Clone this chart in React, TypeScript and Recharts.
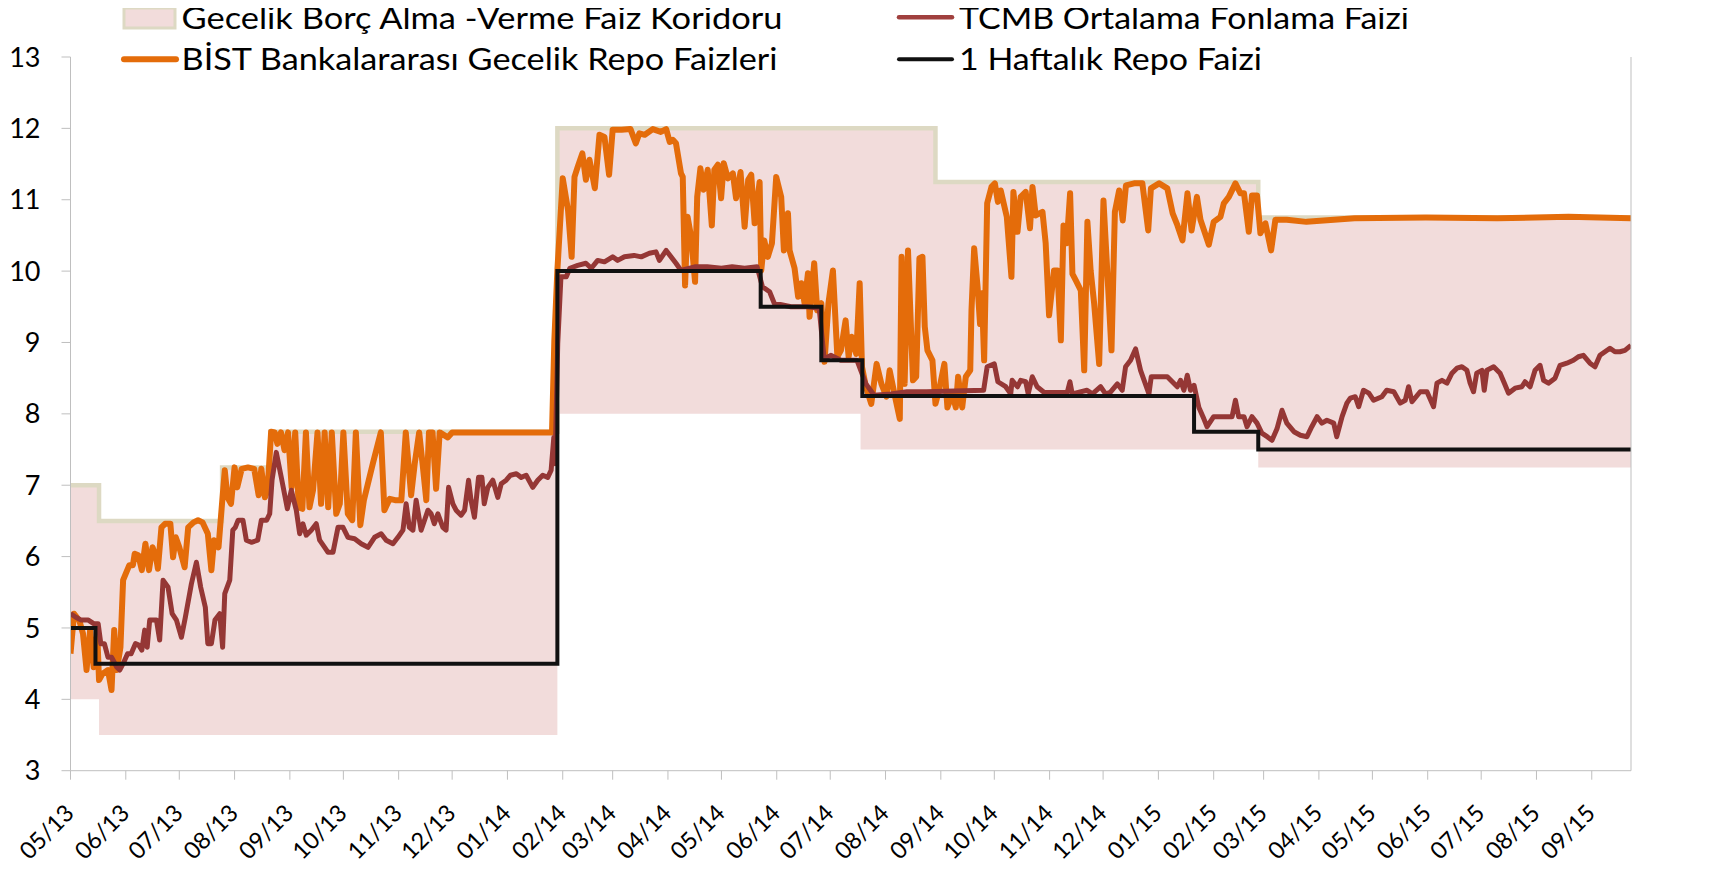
import { Area, ComposedChart, Line, XAxis, YAxis } from 'recharts'

const W = 1713
const H = 870
const font = "Lato, 'Open Sans', sans-serif"

// x axis: days since 2013-05-01, ticks on month starts
const monthLabels = [
  '05/13', '06/13', '07/13', '08/13', '09/13', '10/13', '11/13', '12/13',
  '01/14', '02/14', '03/14', '04/14', '05/14', '06/14', '07/14', '08/14',
  '09/14', '10/14', '11/14', '12/14', '01/15', '02/15', '03/15', '04/15',
  '05/15', '06/15', '07/15', '08/15', '09/15',
]
const dayOf = (label: string) => {
  const [m, y] = label.split('/').map(Number)
  return Math.round((Date.UTC(2000 + y, m - 1, 1) - Date.UTC(2013, 4, 1)) / 86400000)
}
const monthTicks = monthLabels.map(dayOf)
const labelByDay = new Map(monthTicks.map((d, i) => [d, monthLabels[i]]))
const lastDay = 875
const rateTicks = [3, 4, 5, 6, 7, 8, 9, 10, 11, 12, 13]

// overnight borrowing / lending corridor (step changes)
const corridorDays = [0, 16, 85, 112, 273, 443, 485, 666, 875]
const corridorLow = [4, 3.5, 3.5, 3.5, 8, 7.5, 7.5, 7.25, 7.25]
const corridorHigh = [7, 6.5, 7.25, 7.75, 12, 12, 11.25, 10.75, 10.75]

// one week repo rate (step changes)
const repoDays = [0, 14, 273, 387, 421, 444, 630, 666, 875]
const repoRates = [5, 4.5, 10, 9.5, 8.75, 8.25, 7.75, 7.5, 7.5]

// BIST interbank overnight repo
const bistDays = [
  0, 2, 5, 7, 9, 11, 13, 15, 16, 18, 21, 23, 24.5, 26, 28, 29.5, 31, 33, 35, 36,
  38, 40, 42, 44, 46, 48, 49, 51, 53, 56, 57.5, 59, 61, 64, 66, 69, 71.5, 74, 77, 79,
  80.5, 83, 84.5, 86.5, 88, 90, 92, 93.5, 96, 99.5, 103, 105.5, 107, 109, 110.5, 112.5, 114.5, 116, 118, 120,
  122, 124, 126, 128, 130, 132, 134, 136, 138.5, 140.5, 142.5, 144.5, 146.5, 149, 151, 153, 155.5, 158, 160, 162.5,
  164.5, 169.5, 174, 176, 179, 182, 185.5, 188, 191, 193, 195.5, 197.5, 199.5, 201, 203, 205, 207, 211.5, 214, 270,
  271.3, 273, 276, 279, 281, 282.6, 284.4, 287, 289, 291, 294, 296.6, 299.4, 302, 304, 309, 314, 317, 319, 322,
  326.5, 331, 334, 336, 337.7, 339.5, 342.3, 343.3, 344.6, 346, 348, 350.2, 351.4, 353.2, 355, 357.3, 359.6, 361, 363, 364.8,
  366.3, 368.6, 371.4, 373.2, 375.7, 378, 380, 381.7, 383.6, 386.4, 387.3, 389, 391, 393.3, 395.7, 398.5, 400, 402.3, 403.2, 406,
  408, 409.8, 411.6, 413.5, 414.4, 417, 418.7, 421, 422.8, 425, 427.5, 430, 432, 434.6, 436.3, 438, 440.6, 442.5, 443.8, 446,
  449, 452, 454.7, 457.5, 459.3, 462, 465, 466, 467.7, 469.6, 472.4, 474.2, 476, 477.7, 479, 480.5, 483.3, 485, 487, 490,
  491.7, 494.5, 496.4, 497.7, 500, 502, 504.5, 505.2, 506.7, 508.6, 510, 511, 512.3, 514, 516.4, 518.3, 520, 521.6, 525, 527.6,
  528.7, 531, 532.8, 535.6, 538, 539.4, 541.2, 545, 546.8, 548.7, 551.5, 553.4, 555.3, 556.8, 558.6, 560.5, 561.8, 563.7, 566.5, 568.4,
  570.2, 572, 574, 576.8, 579.2, 581.5, 583.7, 585.6, 588, 590, 591.8, 596.4, 601, 604.3, 605.8, 610.4, 615, 618, 620.7, 623.5,
  626.3, 628.6, 631.6, 633.6, 638.3, 641, 644.8, 646.7, 649.5, 653.2, 656, 658, 660.7, 662.5, 665.3, 667.2, 670, 673.2, 675.6, 682,
  693, 720, 760, 800, 840, 875,
]
const bistRates = [
  4.64, 5.2, 5.1, 4.92, 4.41, 4.97, 4.45, 4.92, 4.27, 4.36, 4.41, 4.13, 4.97, 4.41, 4.73, 5.67, 5.76, 5.88, 5.88, 6.04,
  6.02, 5.81, 6.18, 5.81, 6.13, 5.99, 5.83, 6.41, 6.46, 6.46, 5.99, 6.27, 6.13, 5.85, 6.41, 6.48, 6.51, 6.48, 6.32, 5.81,
  6.23, 6.13, 6.6, 7.21, 6.83, 6.74, 7.25, 6.97, 7.23, 7.25, 7.23, 6.86, 7.23, 6.83, 6.93, 7.75, 7.74, 7.58, 7.74, 7.49,
  7.74, 6.97, 7.74, 6.69, 6.67, 7.74, 6.69, 6.93, 7.74, 6.74, 7.74, 6.69, 7.74, 6.6, 6.74, 7.74, 6.6, 6.51, 7.74, 6.44,
  6.79, 7.3, 7.74, 6.65, 6.81, 6.79, 6.79, 7.74, 6.86, 7.3, 7.74, 7.28, 6.79, 7.74, 7.74, 6.95, 7.74, 7.67, 7.74, 7.74,
  9.03, 10.01, 11.3, 10.85, 10.2, 11.32, 11.46, 11.65, 11.28, 11.56, 11.16, 11.91, 11.88, 11.35, 11.98, 11.98, 11.99, 11.79, 11.93, 11.91,
  11.99, 11.95, 11.99, 11.81, 11.84, 11.79, 11.37, 11.32, 9.8, 10.76, 10.48, 9.85, 11.04, 11.44, 11.14, 11.42, 10.64, 11.42, 11.49, 11.02,
  11.51, 11.3, 11.37, 11.02, 11.39, 10.62, 11.28, 11.35, 10.67, 11.25, 10.01, 10.43, 10.2, 10.39, 11.32, 11.04, 10.29, 10.81, 10.29, 10.04,
  9.64, 9.83, 9.55, 9.97, 9.36, 10.11, 9.45, 9.55, 8.73, 9.55, 10.01, 8.8, 8.89, 9.31, 8.8, 9.08, 8.84, 9.83, 8.66, 8.38,
  8.14, 8.7, 8.42, 8.24, 8.61, 8.28, 7.93, 10.2, 8.42, 10.29, 8.47, 8.52, 10.18, 10.2, 9.22, 8.89, 8.75, 8.14, 8.33, 8.7,
  8.09, 8.28, 8.09, 8.52, 8.09, 8.52, 8.61, 9.45, 10.32, 9.78, 9.26, 9.69, 8.75, 10.95, 11.18, 11.23, 10.97, 11.13, 10.76, 9.92,
  11.11, 10.55, 11.04, 11.11, 10.6, 11.18, 10.78, 10.83, 10.39, 9.38, 10.01, 10.01, 9.03, 10.64, 10.39, 11.09, 9.96, 9.87, 9.73, 8.61,
  10.69, 10.01, 9.54, 8.7, 10.99, 9.92, 8.89, 10.83, 11.13, 10.71, 11.2, 11.23, 11.23, 10.57, 11.16, 11.23, 11.16, 10.81, 10.64, 10.43,
  11.09, 10.57, 11.04, 10.72, 10.37, 10.69, 10.76, 10.95, 11.04, 11.23, 11.09, 11.09, 10.55, 11.06, 11.06, 10.53, 10.67, 10.29, 10.72, 10.72,
  10.69, 10.74, 10.75, 10.74, 10.76, 10.74,
]

// CBRT average funding rate
const tcmbDays = [
  0, 3, 6, 10, 13, 15.5, 17, 19, 21, 23, 26, 27.6, 29.5, 32, 34, 36.4, 38.3, 40, 41.6, 43,
  44.4, 46.3, 48.2, 50, 51.9, 54.7, 57, 59.4, 62.2, 64.4, 67.8, 70.6, 73, 75.6, 77, 79, 81, 83.7, 85.3, 86.5,
  89.3, 91, 92.4, 94, 96.7, 98.6, 101.4, 105, 107, 110, 111.7, 113, 115.4, 118.2, 121.6, 123.8, 126.6, 128.5, 130.3, 132.2,
  135, 137.8, 139.7, 142.5, 144.4, 147.2, 150, 152.8, 155.6, 159.3, 163, 166.8, 170.5, 174.2, 177, 180.8, 183.6, 186.4, 188.2, 190,
  192, 193.8, 196.6, 198.5, 200.4, 202.2, 204, 206, 208.8, 210.6, 212, 214.4, 216.2, 219, 221, 223.2, 224.6, 226.5, 228.8, 230.7,
  232, 234, 236.8, 239.6, 241.5, 244.3, 246.7, 250, 252.7, 255.5, 259.2, 262, 264.8, 267.6, 269.5, 271, 271.7, 273.2, 275, 278,
  280, 284.4, 289, 292, 295.6, 299.4, 304, 306.8, 310.6, 316, 320, 324.6, 328.3, 330.2, 334, 336.7, 339.5, 342.3, 350, 357,
  365, 371, 378, 385, 388, 392, 394.6, 404, 413, 419.8, 422.6, 426.3, 432, 441, 446, 450.6, 460, 469, 480, 512,
  514, 518, 520, 524.4, 527.2, 528, 531, 532.8, 535.6, 537, 539.3, 542, 546, 558.9, 560.4, 561.7, 570, 573, 577.6, 580.4,
  583, 587, 589.7, 591.6, 594.4, 597.2, 600, 602, 604.7, 606, 615, 617.8, 620.6, 622.4, 624.3, 626.2, 628, 630, 632.7, 635.5,
  637.3, 641, 646.7, 651.3, 653.2, 655, 658, 659.7, 662.5, 665.3, 668, 671, 673.7, 676.5, 679.3, 682, 686, 689.6, 693.3, 696,
  699, 701.7, 704.5, 708.3, 710, 713, 715.7, 717.6, 720.4, 722.3, 725, 728, 730.7, 735.3, 738, 742, 745.6, 748.4, 750.3, 752.2,
  756.8, 760.6, 764.3, 766.2, 769, 771.8, 774.6, 777.4, 780.2, 783, 784.8, 786.7, 788.5, 791.4, 792.7, 794.2, 798, 801.6, 804, 806.3,
  810, 813.8, 815.6, 818.4, 821.2, 824, 826, 828.7, 832.4, 835.2, 839, 842.7, 845.5, 848.3, 852, 854.8, 857.6, 860.4, 863.2, 866,
  868.8, 871.6, 875,
]
const tcmbRates = [
  5.2, 5.15, 5.11, 5.11, 5.06, 5.06, 4.78, 4.78, 4.59, 4.59, 4.45, 4.41, 4.5, 4.64, 4.64, 4.78, 4.76, 4.69, 4.97, 4.73,
  5.11, 5.11, 5.11, 4.83, 5.67, 5.57, 5.2, 5.11, 4.87, 5.15, 5.62, 5.92, 5.57, 5.29, 4.78, 4.78, 5.11, 5.2, 4.73, 5.48,
  5.67, 6.37, 6.41, 6.51, 6.51, 6.23, 6.2, 6.23, 6.51, 6.51, 6.6, 7.07, 7.46, 7.11, 6.67, 6.93, 6.65, 6.32, 6.46, 6.3,
  6.37, 6.46, 6.23, 6.13, 6.06, 6.06, 6.41, 6.41, 6.27, 6.25, 6.18, 6.13, 6.27, 6.32, 6.23, 6.18, 6.27, 6.37, 6.74, 6.41,
  6.37, 6.79, 6.37, 6.51, 6.65, 6.6, 6.46, 6.6, 6.41, 6.37, 6.97, 6.74, 6.65, 6.58, 6.65, 7.07, 6.79, 6.55, 7.11, 7.11,
  6.74, 6.97, 7.07, 6.83, 7.02, 7.07, 7.14, 7.16, 7.11, 7.14, 6.97, 7.07, 7.14, 7.11, 7.21, 7.67, 7.3, 8.98, 9.92, 9.92,
  10.04, 10.08, 10.11, 10.04, 10.15, 10.13, 10.2, 10.15, 10.2, 10.22, 10.2, 10.25, 10.27, 10.15, 10.29, 10.2, 10.11, 10.01, 10.06, 10.06,
  10.04, 10.06, 10.04, 10.06, 9.78, 9.71, 9.55, 9.5, 9.5, 9.48, 8.77, 8.82, 8.75, 8.75, 8.42, 8.26, 8.28, 8.31, 8.31, 8.33,
  8.66, 8.7, 8.45, 8.38, 8.28, 8.47, 8.38, 8.47, 8.45, 8.28, 8.52, 8.38, 8.3, 8.3, 8.45, 8.28, 8.33, 8.28, 8.38, 8.28,
  8.3, 8.42, 8.33, 8.66, 8.75, 8.91, 8.61, 8.47, 8.28, 8.52, 8.52, 8.45, 8.38, 8.47, 8.33, 8.54, 8.33, 8.4, 8.09, 7.93,
  7.82, 7.96, 7.96, 7.96, 8.19, 7.96, 7.96, 7.82, 7.96, 7.87, 7.73, 7.68, 7.63, 7.79, 8.05, 7.87, 7.75, 7.7, 7.68, 7.82,
  7.96, 7.87, 7.91, 7.87, 7.68, 7.96, 8.15, 8.22, 8.24, 8.1, 8.33, 8.29, 8.19, 8.24, 8.33, 8.31, 8.15, 8.19, 8.38, 8.17,
  8.31, 8.31, 8.1, 8.43, 8.47, 8.43, 8.57, 8.64, 8.66, 8.61, 8.43, 8.31, 8.57, 8.61, 8.33, 8.61, 8.66, 8.57, 8.43, 8.29,
  8.36, 8.38, 8.45, 8.38, 8.61, 8.68, 8.47, 8.43, 8.5, 8.68, 8.71, 8.75, 8.8, 8.82, 8.71, 8.66, 8.82, 8.87, 8.92, 8.87,
  8.87, 8.89, 8.96,
]

const corridor = corridorDays.map((day, i) => ({
  day,
  band: [corridorLow[i], corridorHigh[i]],
  high: corridorHigh[i],
}))
const repo = repoDays.map((day, i) => ({ day, rate: repoRates[i] }))
const bist = bistDays.map((day, i) => ({ day, rate: bistRates[i] }))
const tcmb = tcmbDays.map((day, i) => ({ day, rate: tcmbRates[i] }))

const axisGray = '#BFBFBF'

function MonthTick({ x, y, payload }: any) {
  const tx = x + 5
  const ty = y + 35
  return (
    <text
      x={tx}
      y={ty}
      transform={`rotate(-45, ${tx}, ${ty})`}
      textAnchor="end"
      fontFamily={font}
      fontSize={23.5}
      fill="#000"
    >
      {labelByDay.get(payload.value)}
    </text>
  )
}

function LegendOverlay() {
  const text = { fontFamily: font, fontSize: 30, fill: '#000', lengthAdjust: 'spacingAndGlyphs' as const }
  return (
    <svg width={W} height={90} style={{ position: 'absolute', left: 0, top: 0, pointerEvents: 'none' }}>
      <rect x={124} y={8} width={51} height={20} fill="#F2DCDB" stroke="#DDD9C3" strokeWidth={3} />
      <text x={181.5} y={28.5} textLength={601} {...text}>Gecelik Borç Alma -Verme Faiz Koridoru</text>
      <line x1={124} y1={59.3} x2={176} y2={59.3} stroke="#E46C0A" strokeWidth={6} strokeLinecap="round" />
      <text x={181.5} y={69.5} textLength={596} {...text}>BİST Bankalararası Gecelik Repo Faizleri</text>
      <line x1={899} y1={17.3} x2={952} y2={17.3} stroke="#A0403E" strokeWidth={4.5} strokeLinecap="round" />
      <text x={959} y={28.5} textLength={450} {...text}>TCMB Ortalama Fonlama Faizi</text>
      <line x1={899} y1={59.3} x2={952} y2={59.3} stroke="#111" strokeWidth={4} strokeLinecap="round" />
      <text x={959} y={69.5} textLength={303} {...text}>1 Haftalık Repo Faizi</text>
    </svg>
  )
}

export default function App() {
  return (
    <div style={{ position: 'relative', width: W, height: H, margin: -8, background: '#fff' }}>
      <ComposedChart width={W} height={H} margin={{ top: 57, right: 0, bottom: 0, left: 0 }}>
        <XAxis
          type="number"
          dataKey="day"
          domain={[0, lastDay]}
          allowDataOverflow
          ticks={monthTicks}
          interval={0}
          height={99.3}
          tickSize={9}
          tickMargin={0}
          axisLine={{ stroke: axisGray }}
          tickLine={{ stroke: axisGray }}
          tick={<MonthTick />}
        />
        <YAxis
          yAxisId="left"
          domain={[3, 13]}
          ticks={rateTicks}
          interval={0}
          width={70.5}
          tickSize={9}
          tickMargin={21}
          axisLine={{ stroke: axisGray }}
          tickLine={{ stroke: axisGray }}
          tick={{ fill: '#000', fontSize: 27, fontFamily: font }}
        />
        <YAxis
          yAxisId="right"
          orientation="right"
          domain={[3, 13]}
          ticks={rateTicks}
          interval={0}
          width={82}
          tickSize={9}
          tickMargin={15}
          axisLine={{ stroke: axisGray }}
          tickLine={{ stroke: axisGray }}
          tick={{ fill: '#000', fontSize: 27, fontFamily: font, textAnchor: 'start' }}
        />
        <Area
          yAxisId="left"
          data={corridor}
          dataKey="band"
          type="stepAfter"
          fill="#F2DCDB"
          fillOpacity={1}
          stroke="none"
          isAnimationActive={false}
        />
        <Line
          yAxisId="left"
          data={corridor}
          dataKey="high"
          type="stepAfter"
          stroke="#DDD9C3"
          strokeWidth={4.5}
          dot={false}
          isAnimationActive={false}
        />
        <Line
          yAxisId="left"
          data={bist}
          dataKey="rate"
          type="linear"
          stroke="#E46C0A"
          strokeWidth={6}
          strokeLinejoin="round"
          dot={false}
          isAnimationActive={false}
        />
        <Line
          yAxisId="left"
          data={tcmb}
          dataKey="rate"
          type="linear"
          stroke="#953735"
          strokeWidth={5}
          strokeLinejoin="round"
          dot={false}
          isAnimationActive={false}
        />
        <Line
          yAxisId="left"
          data={repo}
          dataKey="rate"
          type="stepAfter"
          stroke="#111"
          strokeWidth={4}
          dot={false}
          isAnimationActive={false}
        />
      </ComposedChart>
      <LegendOverlay />
    </div>
  )
}
